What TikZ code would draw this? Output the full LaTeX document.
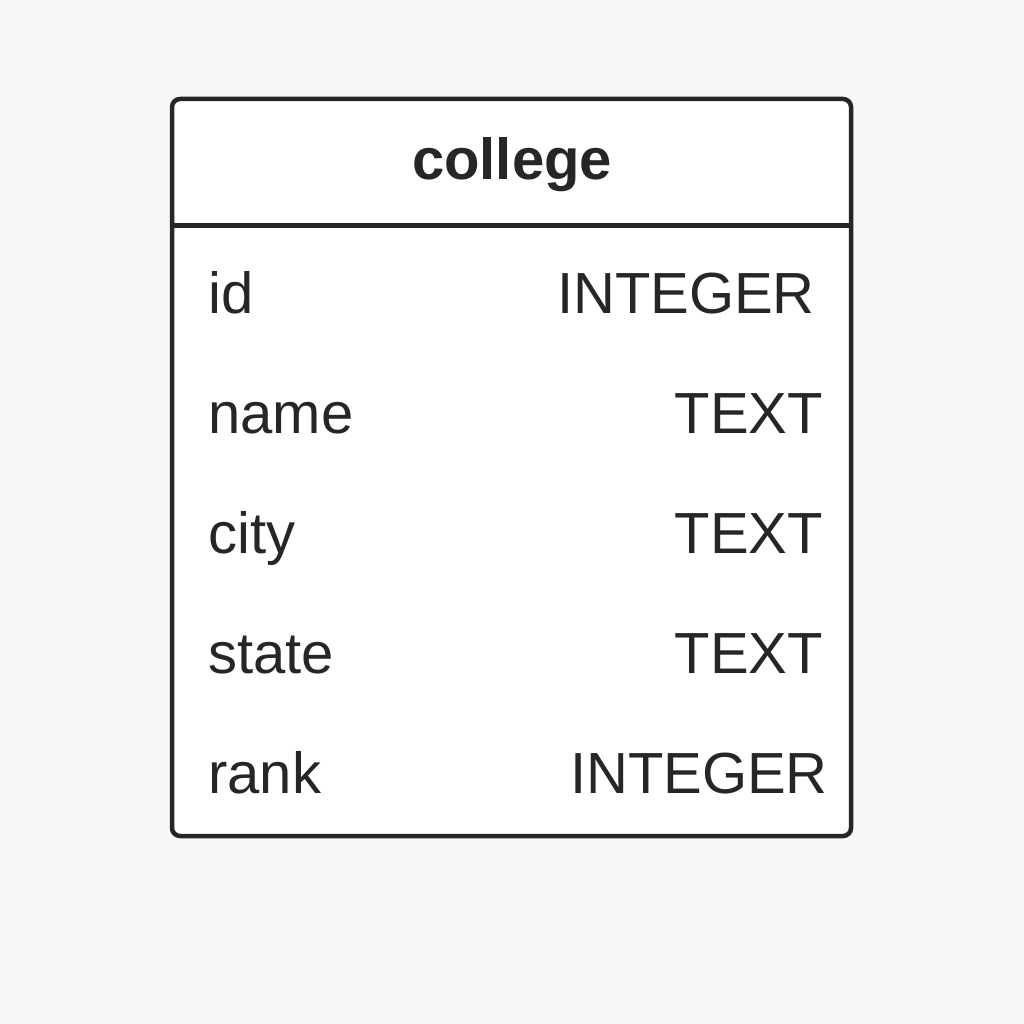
\documentclass[tikz,border=0pt]{standalone}
\usepackage{fontspec}
\setmainfont{Liberation Sans}
\definecolor{bgcol}{HTML}{F8F8F8}
\definecolor{inkcol}{HTML}{262626}
\tikzset{
  boxline/.style={draw=inkcol,line width=4.5pt,rounded corners=8pt},
  fieldname/.style={anchor=base west,inner sep=0pt,text=inkcol},
  fieldtype/.style={anchor=base east,inner sep=0pt,text=inkcol}
}

\begin{document}
\begin{tikzpicture}[x=1pt,y=-1pt,font=\fontsize{58}{60}\selectfont]
  \fill[bgcol] (0,0) rectangle (1024,1024);

  \draw[boxline,fill=white] (172,99) rectangle (851,836);
  \draw[draw=inkcol,line width=4.5pt] (172,225.5) -- (851,225.5);

  \node (TITLE) at (512,180) [anchor=base,inner sep=0pt,text=inkcol,font=\fontsize{58}{60}\selectfont\bfseries] {college};

  \foreach \fname/\ftype/\xr [count=\i] in {id/INTEGER/815,name/TEXT/823,city/TEXT/823,state/TEXT/823,rank/INTEGER/828}
  {
    \node (N\i) at (208,{313+120*(\i-1)}) [fieldname] {\fname};
    \node (T\i) at (\xr,{313+120*(\i-1)}) [fieldtype] {\ftype};
  }

\end{tikzpicture}
\end{document}
